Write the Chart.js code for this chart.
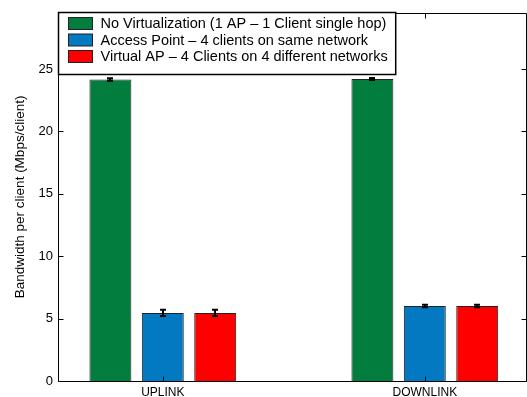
<!DOCTYPE html>
<html>
<head>
<meta charset="utf-8">
<script src="https://cdn.jsdelivr.net/npm/chart.js@4/dist/chart.umd.min.js"></script>
<style>
  html, body { margin: 0; padding: 0; background: #fff; }
</style>
</head>
<body>
<canvas id="chart" width="527" height="397"></canvas>
<script>
// data
const categories = ["UPLINK", "DOWNLINK"];
const seriesNames = [
  "No Virtualization (1 AP \u2013 1 Client single hop)",
  "Access Point \u2013 4 clients on same network",
  "Virtual AP \u2013 4 Clients on 4 different networks",
];
const noVirt = [24.15, 24.2];
const noVirtErr = [0.1, 0.08];
const accessPoint = [5.45, 6.0];
const accessPointErr = [0.25, 0.1];
const virtualAp = [5.45, 6.0];
const virtualApErr = [0.25, 0.1];
const yTicks = [0, 5, 10, 15, 20, 25];

const colors = ["#037d3e", "#0279c1", "#ff0000"];
const FONT = "'Liberation Sans', Arial, Helvetica, sans-serif";

const values = [noVirt, accessPoint, virtualAp];
const errors = [noVirtErr, accessPointErr, virtualApErr];

// x positions 1, 2 like a matlab bar plot
const datasets = values.map((vals, i) => ({
  label: seriesNames[i],
  data: vals.map((v, j) => ({ x: j + 1, y: v })),
  backgroundColor: colors[i],
  borderColor: "#222",
  borderWidth: 1,
  categoryPercentage: 0.6,
  barPercentage: 0.8,
}));

// error bars
const errorBars = {
  id: "errorBars",
  afterDatasetsDraw(chart) {
    const ctx = chart.ctx;
    const yScale = chart.scales.y;
    ctx.save();
    ctx.strokeStyle = "#000";
    ctx.lineWidth = 2;
    chart.data.datasets.forEach((ds, i) => {
      const meta = chart.getDatasetMeta(i);
      meta.data.forEach((bar, j) => {
        const v = values[i][j];
        const e = errors[i][j];
        const yHi = yScale.getPixelForValue(v + e);
        const yLo = yScale.getPixelForValue(v - e);
        const x = Math.round(bar.x);
        ctx.beginPath();
        ctx.moveTo(x, yHi);
        ctx.lineTo(x, yLo);
        ctx.moveTo(x - 3, yHi);
        ctx.lineTo(x + 3, yHi);
        ctx.moveTo(x - 3, yLo);
        ctx.lineTo(x + 3, yLo);
        ctx.stroke();
      });
    });
    ctx.restore();
  },
};

// box around the plot, inward ticks and the legend
const frame = {
  id: "frame",
  afterDraw(chart) {
    const ctx = chart.ctx;
    const a = chart.chartArea;
    const L = Math.round(a.left) + 0.5;
    const R = Math.round(a.right) - 0.5;
    const T = Math.round(a.top) + 0.5;
    const B = Math.round(a.bottom) + 0.5;
    ctx.save();
    ctx.strokeStyle = "#000";
    ctx.lineWidth = 1;
    ctx.beginPath();
    ctx.moveTo(L, T); ctx.lineTo(R, T); ctx.lineTo(R, B); ctx.lineTo(L, B); ctx.closePath();
    yTicks.forEach((v) => {
      const y = Math.round(chart.scales.y.getPixelForValue(v)) + 0.5;
      ctx.moveTo(L, y); ctx.lineTo(L + 5, y);
      ctx.moveTo(R, y); ctx.lineTo(R - 5, y);
    });
    categories.forEach((c, i) => {
      const x = Math.round(chart.scales.x.getPixelForValue(i + 1)) + 0.5;
      ctx.moveTo(x, B); ctx.lineTo(x, B - 5);
      ctx.moveTo(x, T); ctx.lineTo(x, T + 5);
    });
    ctx.stroke();

    // legend
    ctx.font = "14.5px " + FONT;
    const textW = Math.max(...seriesNames.map((s) => ctx.measureText(s).width));
    const bx = L, by = 12.5;
    const bw = 42 + textW + 8, bh = 62;
    ctx.fillStyle = "#fff";
    ctx.fillRect(bx, by, bw, bh);
    ctx.lineWidth = 1.5;
    ctx.strokeRect(bx, by, bw, bh);
    ctx.textBaseline = "middle";
    seriesNames.forEach((s, i) => {
      const cy = by + 11 + i * 16.5;
      ctx.fillStyle = colors[i];
      ctx.fillRect(bx + 10, cy - 6, 24, 12);
      ctx.lineWidth = 1;
      ctx.strokeStyle = "#222";
      ctx.strokeRect(bx + 10, cy - 6, 24, 12);
      ctx.fillStyle = "#000";
      ctx.fillText(s, bx + 42, cy + 0.5);
    });
    ctx.restore();
  },
};

new Chart(document.getElementById("chart"), {
  type: "bar",
  data: { datasets: datasets },
  plugins: [errorBars, frame],
  options: {
    responsive: false,
    animation: false,
    layout: { padding: { top: 9, right: 0, bottom: 0, left: 0 } },
    plugins: { legend: { display: false }, tooltip: { enabled: false } },
    scales: {
      x: {
        type: "linear",
        min: 0.6,
        max: 2.39,
        offset: false,
        grid: { display: false, drawTicks: false, offset: false },
        border: { display: false },
        afterBuildTicks: (s) => { s.ticks = categories.map((c, i) => ({ value: i + 1 })); },
        ticks: {
          callback: (v) => categories[v - 1] || "",
          autoSkip: false,
          maxRotation: 0,
          padding: 4,
          color: "#000",
          font: { size: 12, family: FONT },
        },
        afterFit: (s) => { s.height = 16; },
      },
      y: {
        min: 0,
        max: 29.5,
        grid: { display: false, drawTicks: false },
        border: { display: false },
        afterBuildTicks: (s) => { s.ticks = yTicks.map((v) => ({ value: v })); },
        ticks: { color: "#000", padding: 5, font: { size: 13, family: FONT } },
        title: {
          display: true,
          text: "Bandwidth per client (Mbps/client)",
          color: "#000",
          font: { size: 13.5, family: FONT },
          padding: { top: 12, bottom: 0 },
        },
        afterFit: (s) => { s.width = 58; },
      },
    },
  },
});
</script>
</body>
</html>
